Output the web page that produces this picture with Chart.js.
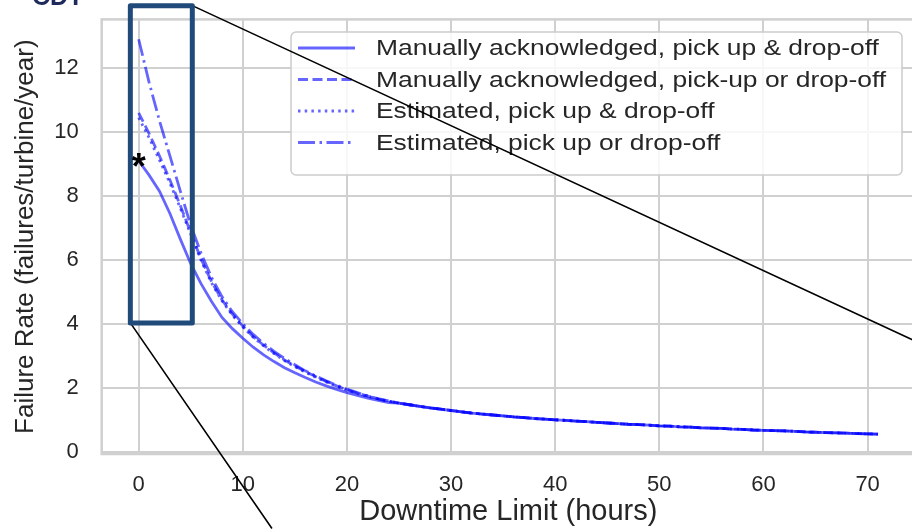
<!DOCTYPE html>
<html><head><meta charset="utf-8">
<script src="https://cdn.jsdelivr.net/npm/chart.js@4/dist/chart.umd.min.js"></script>
<style>html,body{margin:0;padding:0;background:#fff;overflow:hidden;width:912px;height:529px}canvas{display:block}</style>
</head><body>
<canvas id="c" width="930" height="529"></canvas>
<script>
// ---------- data ----------
const hours = [0,1,2,3,4,5,6,7,8,9,10,11,12,13,14,15,16,17,18,19,20,21,22,23,24,25,26,27,28,29,30,31,32,33,34,35,36,37,38,39,40,41,42,43,44,45,46,47,48,49,50,51,52,53,54,55,56,57,58,59,60,61,62,63,64,65,66,67,68,69,70,71];
const seriesLabels = [
  'Manually acknowledged, pick up & drop-off',
  'Manually acknowledged, pick-up or drop-off',
  'Estimated, pick up & drop-off',
  'Estimated, pick up or drop-off'
];
// hours 0..24 (curves differ)
const manualAndHead = [9.1,8.65,8.15,7.45,6.65,5.88,5.25,4.7,4.2,3.85,3.55,3.27,3.03,2.82,2.63,2.47,2.32,2.18,2.06,1.95,1.85,1.76,1.68,1.61,1.54];
const manualOrHead  = [10.6,9.95,9.25,8.5,7.7,6.85,6.02,5.32,4.75,4.3,3.93,3.6,3.33,3.09,2.87,2.68,2.51,2.35,2.2,2.06,1.94,1.83,1.74,1.65,1.58];
const estAndHead    = [10.45,9.82,9.12,8.4,7.62,6.8,5.98,5.28,4.72,4.27,3.9,3.58,3.31,3.07,2.85,2.66,2.49,2.33,2.18,2.04,1.92,1.82,1.73,1.65,1.58];
const estOrHead     = [12.9,11.55,10.35,9.25,8.15,7.08,6.2,5.45,4.85,4.38,4.0,3.67,3.39,3.14,2.92,2.72,2.53,2.37,2.22,2.08,1.96,1.85,1.75,1.66,1.59];
// hours 25..71 (curves coincide)
const sharedTail = [1.52,1.47,1.42,1.37,1.33,1.29,1.25,1.21,1.18,1.15,1.12,1.09,1.07,1.04,1.02,1.0,0.98,0.96,0.94,0.92,0.9,0.88,0.86,0.85,0.83,0.81,0.8,0.78,0.77,0.75,0.74,0.73,0.71,0.7,0.68,0.67,0.66,0.65,0.64,0.62,0.61,0.6,0.59,0.58,0.57,0.56,0.55];
const xTicks = [0,10,20,30,40,50,60,70];
const yTicks = [0,2,4,6,8,10,12];
// zoom-box annotation (data units) and its leader-line end points
const zoomBoxX = [-0.8, 5.15];
const zoomBoxY = [4.03, 13.95];
const leaderEndTop = [74.3, 3.5];
const leaderEndBottom = [12.8, -2.4];

// ---------- styling ----------
const LINE_COLOR = 'rgba(0,0,255,0.6)';
const dashes = [[], [10, 4.5], [2.5, 4.2], [17, 4.5, 2.5, 4.5]];
const TEXT = '#262626';
const GRID = '#d0d0d0';
const FONT = "'Liberation Sans', Arial, sans-serif";

const heads = [manualAndHead, manualOrHead, estAndHead, estOrHead];
const datasets = heads.map((head, k) => {
  const vals = head.concat(sharedTail);
  return {
    label: seriesLabels[k],
    data: hours.map((h, i) => ({x: h, y: vals[i]})),
    borderColor: LINE_COLOR,
    backgroundColor: LINE_COLOR,
    borderWidth: 2.8,
    borderDash: dashes[k],
    pointRadius: 0,
    fill: false,
    tension: 0
  };
});

function noPad(s) { s.paddingTop = 0; s.paddingBottom = 0; s.paddingLeft = 0; s.paddingRight = 0; }

const framePlugin = {
  id: 'frame',
  beforeDatasetsDraw(chart) {
    const {ctx, chartArea: a} = chart;
    ctx.save();
    ctx.strokeStyle = GRID;
    ctx.lineWidth = 2.5;
    ctx.strokeRect(a.left, a.top, a.right - a.left, a.bottom - a.top);
    ctx.restore();
  }
};

const legendPlugin = {
  id: 'customLegend',
  afterDatasetsDraw(chart) {
    const {ctx} = chart;
    const bx = 291, by = 32, bw = 611, bh = 143, r = 5;
    ctx.save();
    ctx.beginPath();
    ctx.roundRect(bx, by, bw, bh, r);
    ctx.fillStyle = 'rgba(255,255,255,0.82)';
    ctx.fill();
    ctx.strokeStyle = '#cccccc';
    ctx.lineWidth = 1.5;
    ctx.stroke();
    chart.data.datasets.forEach((ds, i) => {
      const y = 48 + i * 31.5;
      ctx.beginPath();
      ctx.setLineDash(ds.borderDash || []);
      ctx.strokeStyle = ds.borderColor;
      ctx.lineWidth = ds.borderWidth;
      ctx.moveTo(298, y);
      ctx.lineTo(355, y);
      ctx.stroke();
      ctx.setLineDash([]);
      ctx.save();
      ctx.translate(376, y + 1);
      ctx.scale(1.2, 1);
      ctx.fillStyle = TEXT;
      ctx.font = '22px ' + FONT;
      ctx.textBaseline = 'middle';
      ctx.textAlign = 'left';
      ctx.fillText(ds.label, 0, 0);
      ctx.restore();
    });
    ctx.restore();
  }
};

const annotationPlugin = {
  id: 'zoomBox',
  afterDraw(chart) {
    const {ctx, scales: {x, y}} = chart;
    const x0 = x.getPixelForValue(zoomBoxX[0]), x1 = x.getPixelForValue(zoomBoxX[1]);
    const y0 = y.getPixelForValue(zoomBoxY[1]), y1 = y.getPixelForValue(zoomBoxY[0]);
    ctx.save();
    // leader lines
    ctx.strokeStyle = '#000';
    ctx.lineWidth = 1.6;
    ctx.beginPath();
    ctx.moveTo(x1, y0);
    ctx.lineTo(x.getPixelForValue(leaderEndTop[0]), y.getPixelForValue(leaderEndTop[1]));
    ctx.moveTo(x0, y1);
    ctx.lineTo(x.getPixelForValue(leaderEndBottom[0]), y.getPixelForValue(leaderEndBottom[1]));
    ctx.stroke();
    // box
    ctx.strokeStyle = '#1f4a7a';
    ctx.lineWidth = 5;
    ctx.lineJoin = 'round';
    ctx.strokeRect(x0, y0, x1 - x0, y1 - y0);
    // asterisk at first point of first series
    ctx.fillStyle = '#000';
    ctx.font = 'bold 36px ' + FONT;
    ctx.textAlign = 'center';
    ctx.textBaseline = 'middle';
    ctx.fillText('*', x.getPixelForValue(hours[0]), y.getPixelForValue(manualAndHead[0]) + 8);
    // clipped header text
    ctx.fillStyle = '#1f2a5c';
    ctx.font = 'bold 25px ' + FONT;
    ctx.textAlign = 'left';
    ctx.textBaseline = 'alphabetic';
    ctx.fillText('CDT', 32, 5);
    ctx.restore();
  }
};

new Chart(document.getElementById('c'), {
  type: 'line',
  data: {datasets},
  options: {
    responsive: false,
    animation: false,
    events: [],
    layout: {padding: {top: 19.4, right: 15, left: 0, bottom: 0}},
    plugins: {legend: {display: false}, tooltip: {enabled: false}},
    scales: {
      x: {
        type: 'linear',
        min: -3.55, max: 74.55,
        afterBuildTicks: s => { s.ticks = xTicks.map(v => ({value: v})); },
        afterFit: s => { s.height = 75; noPad(s); },
        grid: {color: GRID, lineWidth: 2, drawTicks: false},
        border: {display: false},
        ticks: {color: TEXT, font: {family: FONT, size: 22}, padding: 18, maxRotation: 0},
        title: {display: true, text: 'Downtime Limit (hours)', color: TEXT,
                font: {family: FONT, size: 29}, padding: {top: 0, bottom: 0}}
      },
      y: {
        type: 'linear',
        min: -0.07, max: 13.52,
        afterBuildTicks: s => { s.ticks = yTicks.map(v => ({value: v})); },
        afterFit: s => { s.width = 101.7; noPad(s); },
        grid: {color: GRID, lineWidth: 2, drawTicks: false},
        border: {display: false},
        ticks: {color: TEXT, font: {family: FONT, size: 22}, padding: 23},
        title: {display: true, text: 'Failure Rate (failures/turbine/year)', color: TEXT,
                font: {family: "'Liberation Sans Narrow', " + FONT, size: 26}, padding: {top: 10, bottom: 0}}
      }
    }
  },
  plugins: [framePlugin, legendPlugin, annotationPlugin]
});
</script>
</body></html>
